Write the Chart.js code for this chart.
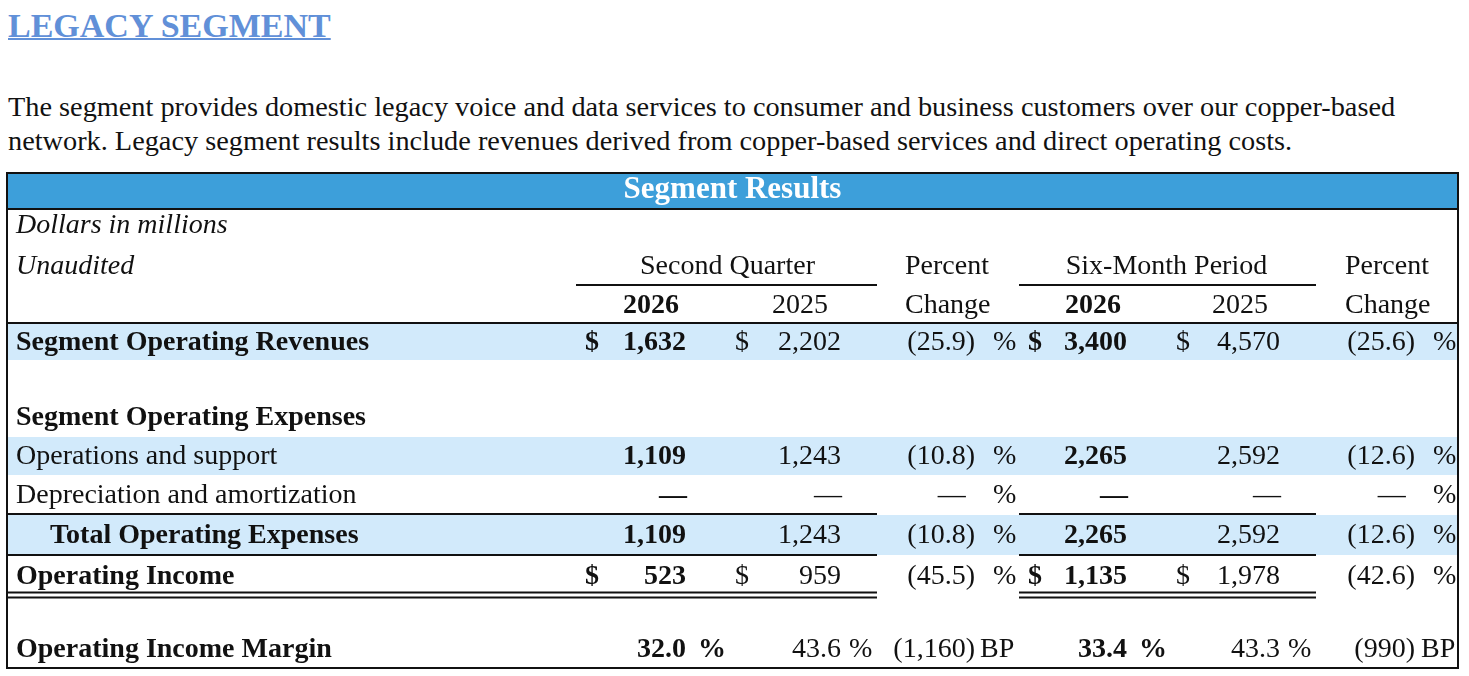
<!DOCTYPE html>
<html>
<head>
<meta charset="utf-8">
<script src="https://cdn.jsdelivr.net/npm/chart.js@4.4.1/dist/chart.umd.min.js"></script>
<style>
  html, body { margin: 0; padding: 0; background: #fff; }
  body { width: 1469px; height: 676px; position: relative; overflow: hidden;
         font-family: "Liberation Serif", "Times New Roman", serif; color: #111; }
  #title { position: absolute; left: 8px; top: 9px; margin: 0; font-size: 34px; line-height: 34px;
           font-weight: bold; color: #6190d8; text-decoration: underline; text-decoration-thickness: 2px; }
  #intro { position: absolute; left: 8px; top: 90px; margin: 0; font-size: 28.3px; line-height: 34px;
           white-space: nowrap; }
  #tableChart { position: absolute; left: 0; top: 0; }
</style>
</head>
<body>
<h1 id="title">LEGACY SEGMENT</h1>
<p id="intro">The segment provides domestic legacy voice and data services to consumer and business customers over our copper-based<br>network. Legacy segment results include revenues derived from copper-based services and direct operating costs.</p>
<canvas id="tableChart" width="1469" height="676"></canvas>
<script>
// Table data
const tableTitle = 'Segment Results';
const unitNotes = ['Dollars in millions', 'Unaudited'];
const periodLabels = ['Second Quarter', 'Six-Month Period'];
const yearLabels = ['2026', '2025'];
const changeLabels = ['Percent', 'Change'];

const lineItems = ['Segment Operating Revenues', 'Operations and support', 'Depreciation and amortization',
                   'Total Operating Expenses', 'Operating Income'];
const q2026 = [1632, 1109, null, 1109, 523];
const q2025 = [2202, 1243, null, 1243, 959];
const qChange = [-25.9, -10.8, null, -10.8, -45.5];
const ytd2026 = [3400, 2265, null, 2265, 1135];
const ytd2025 = [4570, 2592, null, 2592, 1978];
const ytdChange = [-25.6, -12.6, null, -12.6, -42.6];

const expensesHeading = 'Segment Operating Expenses';
const marginLabel = 'Operating Income Margin';
const marginQ = [32.0, 43.6];
const marginQChangeBp = -1160;
const marginYtd = [33.4, 43.3];
const marginYtdChangeBp = -990;

// Layout
const rowHeights = [36, 40, 38, 37, 37, 39, 39, 39, 41, 40, 33, 40];
const itemRows = [3, 6, 7, 8, 9];
const bandRows = [3, 6, 8];
const boldItems = [true, false, false, true, true];
const dollarItems = [true, false, false, false, true];
const col = {
  label: 16, indent: 50,
  q26$: 585, q26: 686, q26Head: 651,
  q25$: 735, q25: 841, q25Head: 800,
  qPct: 975, qSign: 993, qHead: 905,
  y26$: 1028, y26: 1127, y26Head: 1093,
  y25$: 1176, y25: 1280, y25Head: 1240,
  yPct: 1415, ySign: 1433, yHead: 1345,
  qSpan: [576, 877], ySpan: [1019, 1316], left: 7, right: 1458
};
const serif = '"Liberation Serif", "Times New Roman", serif';
const ink = '#111';
const band = '#d2eafb';
const headerBlue = '#3d9fda';

const fmt = v => v.toLocaleString('en-US');
const fmtPct = v => v < 0 ? `(${Math.abs(v).toFixed(1)})` : v.toFixed(1);
const fmtBp = v => v < 0 ? `(${fmt(Math.abs(v))})` : fmt(v);

const tablePlugin = {
  id: 'segmentTable',
  afterDraw(chart) {
    const { ctx, scales: { x, y } } = chart;
    const X = v => x.getPixelForValue(v);
    const edges = [0];
    rowHeights.forEach(h => edges.push(edges[edges.length - 1] + h));
    const top = i => y.getPixelForValue(edges[i]);
    const bot = i => y.getPixelForValue(edges[i + 1]);
    const mid = i => (top(i) + bot(i)) / 2;

    function text(str, px, row, align, opts = {}) {
      ctx.save();
      ctx.font = `${opts.italic ? 'italic ' : ''}${opts.bold ? 'bold ' : ''}${opts.size || 28}px ${serif}`;
      ctx.fillStyle = opts.color || ink;
      ctx.textAlign = align;
      ctx.textBaseline = 'alphabetic';
      ctx.fillText(str, X(px), (opts.y !== undefined ? opts.y : mid(row)) + 8.5);
      ctx.restore();
    }
    function hline(py, spans, w = 2) {
      ctx.save();
      ctx.strokeStyle = ink;
      ctx.lineWidth = w;
      spans.forEach(([a, b]) => {
        ctx.beginPath();
        ctx.moveTo(X(a), py);
        ctx.lineTo(X(b), py);
        ctx.stroke();
      });
      ctx.restore();
    }
    function dash(px, row, bold) {
      ctx.save();
      ctx.font = `${bold ? 'bold ' : ''}28px ${serif}`;
      ctx.fillStyle = ink;
      ctx.textAlign = 'right';
      ctx.fillText('\u2014', X(px), mid(row) + 8.5);
      ctx.restore();
    }

    // row shading
    ctx.save();
    ctx.fillStyle = band;
    bandRows.forEach(r => ctx.fillRect(X(col.left) + 1, top(r) + 1, X(col.right) - X(col.left) - 2, bot(r) - top(r) - 1));
    // title bar
    const barTop = top(0) - 36;
    ctx.fillStyle = headerBlue;
    ctx.fillRect(X(col.left), barTop, X(col.right) - X(col.left), 36);
    ctx.restore();
    text(tableTitle, (col.left + col.right) / 2, 0, 'center', { bold: true, size: 31, color: '#fff', y: barTop + 16.5 });

    // heading rows
    text(unitNotes[0], col.label, 0, 'left', { italic: true, y: mid(0) - 3 });
    text(unitNotes[1], col.label, 1, 'left', { italic: true });
    text(periodLabels[0], (col.qSpan[0] + col.qSpan[1]) / 2 + 1, 1, 'center');
    text(periodLabels[1], (col.ySpan[0] + col.ySpan[1]) / 2 - 1, 1, 'center');
    text(changeLabels[0], col.qHead, 1, 'left');
    text(changeLabels[0], col.yHead, 1, 'left');
    text(yearLabels[0], col.q26Head, 2, 'center', { bold: true });
    text(yearLabels[1], col.q25Head, 2, 'center');
    text(changeLabels[1], col.qHead, 2, 'left');
    text(yearLabels[0], col.y26Head, 2, 'center', { bold: true });
    text(yearLabels[1], col.y25Head, 2, 'center');
    text(changeLabels[1], col.yHead, 2, 'left');
    text(expensesHeading, col.label, 5, 'left', { bold: true });

    // line items
    ctx.font = `28px ${serif}`;
    const parenW = ctx.measureText(')').width;
    lineItems.forEach((name, k) => {
      const r = itemRows[k];
      const b = boldItems[k];
      text(name, k === 3 ? col.indent : col.label, r, 'left', { bold: b });
      if (dollarItems[k]) {
        text('$', col.q26$, r, 'left', { bold: true });
        text('$', col.q25$, r, 'left');
        text('$', col.y26$, r, 'left', { bold: true });
        text('$', col.y25$, r, 'left');
      }
      const cells = [[q2026, col.q26, true], [q2025, col.q25, false], [ytd2026, col.y26, true], [ytd2025, col.y25, false]];
      cells.forEach(([arr, px, bd]) => {
        if (arr[k] === null) dash(px + 1, r, bd);
        else text(fmt(arr[k]), px, r, 'right', { bold: bd });
      });
      [[qChange, col.qPct, col.qSign], [ytdChange, col.yPct, col.ySign]].forEach(([arr, px, sx]) => {
        if (arr[k] === null) dash(px - parenW, r, false);
        else text(fmtPct(arr[k]), px, r, 'right');
        text('%', sx, r, 'left');
      });
    });

    // margin row
    const m = 11;
    text(marginLabel, col.label, m, 'left', { bold: true });
    text(marginQ[0].toFixed(1), col.q26, m, 'right', { bold: true });
    text('%', col.q26 + 12, m, 'left', { bold: true });
    text(marginQ[1].toFixed(1), col.q25, m, 'right');
    text('%', col.q25 + 8, m, 'left');
    text(fmtBp(marginQChangeBp), col.qPct, m, 'right');
    text('BP', col.qPct + 5, m, 'left');
    text(marginYtd[0].toFixed(1), col.y26, m, 'right', { bold: true });
    text('%', col.y26 + 12, m, 'left', { bold: true });
    text(marginYtd[1].toFixed(1), col.y25, m, 'right');
    text('%', col.y25 + 8, m, 'left');
    text(fmtBp(marginYtdChangeBp), col.yPct, m, 'right');
    text('BP', col.yPct + 6, m, 'left');

    // rules
    const sumSpans = [[col.left, col.qSpan[1]], col.ySpan];
    hline(bot(1), [col.qSpan, col.ySpan]);
    hline(bot(2), [[col.left, col.right]]);
    hline(bot(7), sumSpans);
    hline(bot(8), sumSpans);
    hline(bot(9) - 2.5, sumSpans);
    hline(bot(9) + 2.5, sumSpans);
    hline(barTop, [[col.left, col.right]]);
    hline(barTop + 36, [[col.left, col.right]]);

    // frame
    ctx.save();
    ctx.strokeStyle = ink;
    ctx.lineWidth = 2;
    ctx.strokeRect(X(col.left), barTop, X(col.right) - X(col.left), bot(11) - barTop);
    ctx.restore();
  }
};

new Chart(document.getElementById('tableChart'), {
  type: 'scatter',
  data: { datasets: [] },
  options: {
    responsive: false,
    animation: false,
    layout: { padding: { top: 209, bottom: 8, left: 8, right: 11 } },
    scales: {
      x: { type: 'linear', min: 8, max: 1458, display: false },
      y: { type: 'linear', min: 0, max: rowHeights.reduce((s, h) => s + h, 0), reverse: true, display: false }
    },
    plugins: { legend: { display: false }, tooltip: { enabled: false } }
  },
  plugins: [tablePlugin]
});
</script>
</body>
</html>
